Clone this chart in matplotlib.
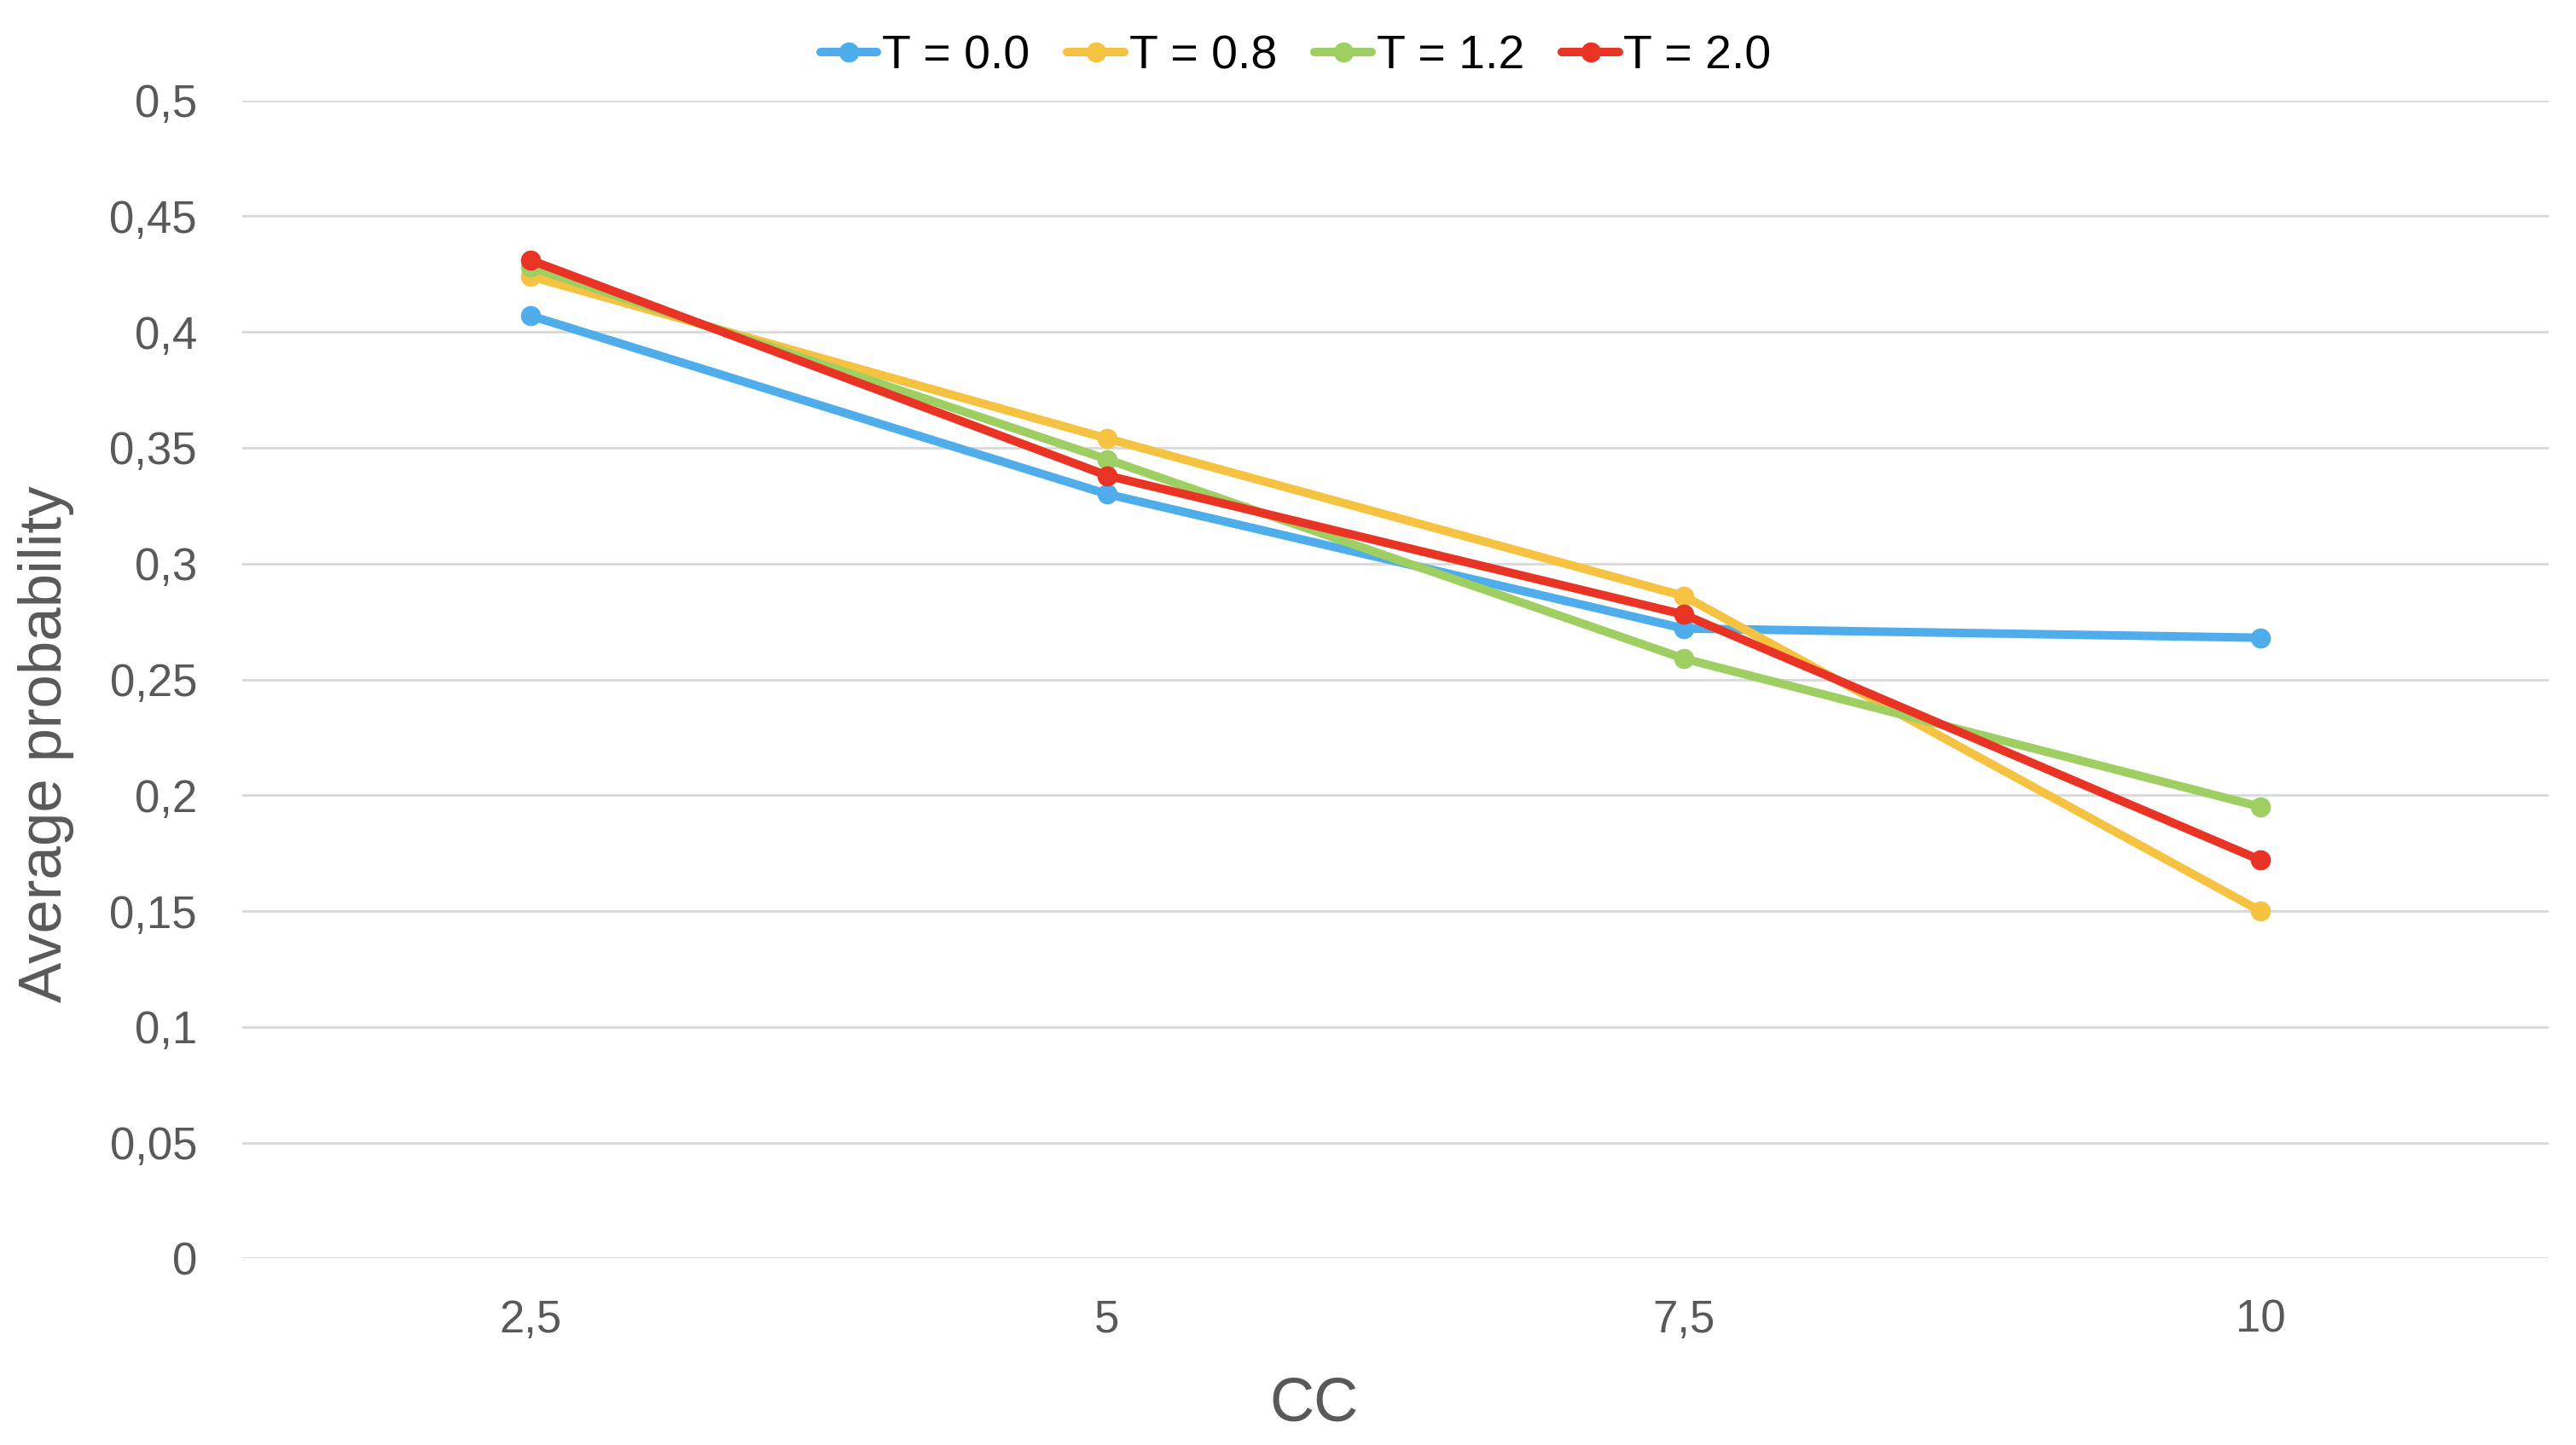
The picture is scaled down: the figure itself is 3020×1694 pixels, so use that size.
import matplotlib
matplotlib.use("Agg")
import matplotlib.pyplot as plt
from matplotlib.ticker import FixedLocator, FuncFormatter

plt.rcParams["font.family"] = ["Liberation Sans", "DejaVu Sans"]

# --- Data ---
cc_labels = ["2,5", "5", "7,5", "10"]
t0_0 = [0.407, 0.330, 0.272, 0.268]
t0_8 = [0.424, 0.354, 0.286, 0.150]
t1_2 = [0.428, 0.345, 0.259, 0.195]
t2_0 = [0.431, 0.338, 0.278, 0.172]

series = [
    ("T = 0.0", t0_0, "#4EADEA"),
    ("T = 0.8", t0_8, "#F5C242"),
    ("T = 1.2", t1_2, "#9FCF63"),
    ("T = 2.0", t2_0, "#E83325"),
]

fig = plt.figure(figsize=(15.1, 8.47), dpi=200)
ax = fig.add_axes([0.094, 0.129, 0.8955, 0.8016])

x = list(range(len(cc_labels)))
for name, vals, col in series:
    ax.plot(x, vals, color=col, linewidth=3.6, marker="o", markersize=7.5,
            label=name, solid_capstyle="round")

ax.set_xlim(-0.5, len(cc_labels) - 0.5)
ax.set_ylim(0, 0.5)
ax.set_xticks(x)
ax.set_xticklabels(cc_labels)
ax.yaxis.set_major_locator(FixedLocator([i * 0.05 for i in range(11)]))
ax.yaxis.set_major_formatter(FuncFormatter(
    lambda v, p: f"{v:.2f}".rstrip("0").rstrip(".").replace(".", ",") if v else "0"))

ax.grid(axis="y", color="#D9D9D9", linewidth=1.0)
ax.set_axisbelow(True)
for s in ax.spines.values():
    s.set_visible(False)
ax.tick_params(axis="both", length=0, labelsize=19, labelcolor="#595959")
ax.tick_params(axis="y", pad=19)
ax.tick_params(axis="x", pad=17)

# axis titles sit where Excel put them (not exactly centred on the plot area)
fig.text(0.510, 0.028, "CC", fontsize=26, color="#595959", ha="center", va="center")
fig.text(0.0179, 0.485, "Average probability", fontsize=25.5, color="#595959",
         ha="center", va="center", rotation=90)

fig.legend(loc="center", bbox_to_anchor=(0.503, 0.961), ncol=4, frameon=False,
           fontsize=20, handlelength=1.2, handletextpad=0.1, columnspacing=0.8,
           labelcolor="black")

fig.savefig("out.png", dpi=200)
